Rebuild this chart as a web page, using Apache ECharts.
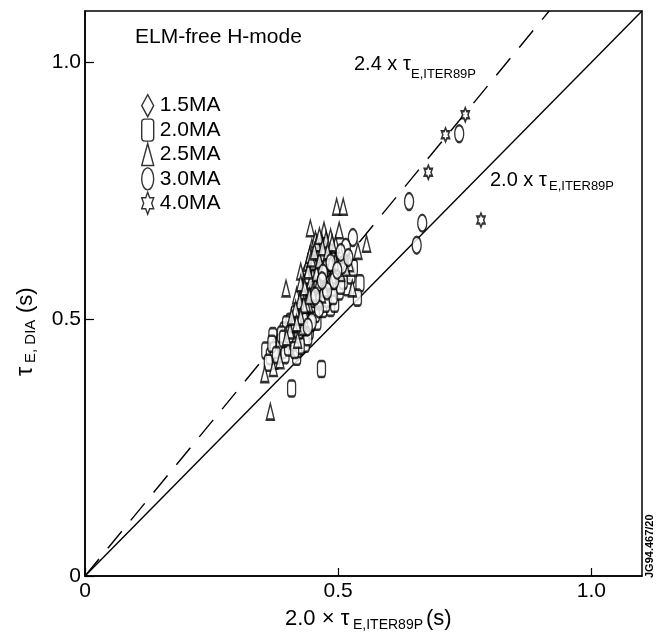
<!DOCTYPE html>
<html>
<head>
<meta charset="utf-8">
<script src="https://cdn.jsdelivr.net/npm/echarts@6/dist/echarts.min.js"></script>
<style>html,body{margin:0;padding:0;background:#fff}#c{width:664px;height:634px}</style>
</head>
<body>
<div id="c"></div>
<script>
// ---- data ----
const seriesNames = ['1.5MA', '2.0MA', '2.5MA', '3.0MA', '4.0MA'];
const ma15 = [[0.435,0.590],[0.448,0.600],[0.460,0.620],[0.466,0.570],[0.476,0.592],[0.482,0.560],[0.495,0.570],[0.458,0.550],[0.444,0.548],[0.472,0.635],[0.452,0.625],[0.438,0.520],
  [0.440,0.575],[0.456,0.580],[0.468,0.605],[0.478,0.620],[0.486,0.595],[0.450,0.560],[0.462,0.555],[0.430,0.540]];
const ma20 = [[0.467,0.403],[0.408,0.365],[0.543,0.570],[0.538,0.542],[0.371,0.467],[0.357,0.439],[0.376,0.419],[0.418,0.427],[0.382,0.432],[0.393,0.478],[0.400,0.458],[0.420,0.442],[0.443,0.477],[0.366,0.428],[0.380,0.448],[0.410,0.470],[0.428,0.470],[0.435,0.452],[0.390,0.440],[0.405,0.495],[0.415,0.510],[0.432,0.500],[0.448,0.505],[0.458,0.495],[0.470,0.520],[0.485,0.522],[0.493,0.530],[0.502,0.554],[0.518,0.562],[0.525,0.585],[0.465,0.548],[0.452,0.520],[0.440,0.465],[0.478,0.540],[0.510,0.575],[0.530,0.600],
  [0.374,0.440],[0.386,0.455],[0.395,0.430],[0.402,0.445],[0.412,0.455],[0.425,0.448],[0.398,0.490],[0.408,0.480],[0.388,0.470],[0.362,0.415],[0.455,0.510],[0.462,0.535],[0.475,0.530],[0.490,0.545],[0.505,0.565],
  [0.369,0.452],[0.378,0.430],[0.392,0.462],[0.403,0.470],[0.414,0.440],[0.422,0.478],[0.436,0.485],[0.446,0.492]];
const ma25 = [[0.366,0.320],[0.355,0.393],[0.397,0.560],[0.445,0.677],[0.472,0.673],[0.502,0.673],[0.497,0.719],[0.510,0.719],[0.556,0.647],[0.539,0.633],[0.528,0.560],[0.505,0.590],[0.522,0.609],[0.426,0.593],[0.418,0.546],[0.432,0.572],[0.440,0.610],[0.448,0.640],[0.455,0.655],[0.462,0.630],[0.468,0.650],[0.478,0.645],[0.485,0.660],[0.490,0.630],[0.495,0.645],[0.458,0.605],[0.450,0.585],[0.442,0.560],[0.436,0.540],[0.428,0.525],[0.420,0.505],[0.412,0.490],[0.405,0.478],[0.398,0.465],[0.470,0.612],[0.480,0.600],[0.465,0.585],[0.455,0.565],[0.447,0.530],[0.460,0.540],[0.475,0.570],[0.488,0.585],[0.500,0.610],[0.512,0.625],[0.515,0.600],[0.440,0.500],[0.430,0.485],[0.372,0.405],[0.385,0.420],[0.420,0.460],
  [0.430,0.555],[0.438,0.585],[0.444,0.625],[0.452,0.612],[0.458,0.648],[0.463,0.662],[0.470,0.628],[0.476,0.655],[0.482,0.620],[0.488,0.648],[0.494,0.612],[0.446,0.575],[0.452,0.540],[0.424,0.535],[0.416,0.520],[0.408,0.505],[0.434,0.510],[0.442,0.528],[0.466,0.600],[0.472,0.560],[0.460,0.595],[0.484,0.575],[0.426,0.570],
  [0.434,0.562],[0.441,0.595],[0.447,0.618],[0.453,0.632],[0.457,0.590],[0.463,0.615],[0.469,0.640],[0.474,0.605],[0.479,0.632],[0.486,0.610],[0.449,0.552],[0.437,0.530],[0.443,0.545],[0.461,0.570],[0.467,0.548],[0.432,0.528],[0.426,0.505],[0.418,0.492]];
const ma30 = [[0.739,0.861],[0.640,0.729],[0.666,0.687],[0.655,0.644],[0.529,0.659],[0.515,0.640],[0.508,0.605],[0.492,0.575],[0.478,0.555],[0.462,0.520],[0.448,0.495],[0.470,0.590],[0.485,0.610],[0.455,0.545],
  [0.498,0.595],[0.505,0.630],[0.468,0.575],[0.440,0.485],[0.520,0.620]];
const ma40 = [[0.751,0.898],[0.712,0.859],[0.678,0.786],[0.782,0.693]];
const line20 = [[0, 0], [1.1, 1.1]];          // 2.0 x tau line (y = x)
const line24 = [[0, 0], [0.9167, 1.1]];       // 2.4 x tau line (y = 1.2 x)
const axisMin = 0, axisMax = 1.1, axisStep = 0.5;

// ---- styles ----
const FONT = '"Liberation Sans", Arial, sans-serif';
const starPath = 'path://M50,0 L64.4,25 L93.3,25 L78.9,50 L93.3,75 L64.4,75 L50,100 L35.6,75 L6.7,75 L21.1,50 L6.7,25 L35.6,25 Z';
const ellipsePath = 'path://M50,0 A50,50 0 1,1 50,100 A50,50 0 1,1 50,0 Z';
const markStyle = { color: '#fff', borderColor: '#000', borderWidth: 1.8 };
function sc(name, data, symbol, size) {
  return { name, type: 'scatter', data, symbol, symbolSize: size, symbolKeepAspect: false,
    itemStyle: markStyle, emphasis: { disabled: true }, z: 3 };
}
const fmt = v => (v === 0 ? '0' : v.toFixed(1));

const chart = echarts.init(document.getElementById('c'), null, { renderer: 'canvas' });
chart.setOption({
  animation: false,
  backgroundColor: '#fff',
  grid: { left: 85, right: 22, top: 11, bottom: 58, show: true, borderColor: '#000', borderWidth: 1.5, backgroundColor: 'transparent' },
  legend: {
    data: seriesNames, orient: 'vertical', left: 136, top: 89,
    itemWidth: 12, itemHeight: 22, itemGap: 1, symbolKeepAspect: false,
    itemStyle: { color: '#fff', borderColor: '#000', borderWidth: 1.4 },
    textStyle: { fontSize: 21, color: '#000', fontFamily: FONT, padding: [0, 0, 0, 1] },
    selectedMode: false
  },
  xAxis: {
    type: 'value', min: axisMin, max: axisMax, interval: axisStep,
    axisLine: { show: true, onZero: false, lineStyle: { color: '#000', width: 1.5 } },
    axisTick: { show: true, inside: true, length: 8, lineStyle: { color: '#000', width: 1.2 } },
    axisLabel: { fontSize: 21, color: '#000', fontFamily: FONT, margin: 5, showMaxLabel: false, formatter: fmt },
    splitLine: { show: false }
  },
  yAxis: {
    type: 'value', min: axisMin, max: axisMax, interval: axisStep,
    axisLine: { show: true, onZero: false, lineStyle: { color: '#000', width: 1.5 } },
    axisTick: { show: true, inside: true, length: 9, lineStyle: { color: '#000', width: 1.2 } },
    axisLabel: { fontSize: 21, color: '#000', fontFamily: FONT, margin: 4, showMaxLabel: false, formatter: fmt },
    splitLine: { show: false }
  },
  series: [
    { name: 'line20', type: 'line', data: line20, showSymbol: false, silent: true, z: 2,
      lineStyle: { color: '#000', width: 1.4 } },
    { name: 'line24', type: 'line', data: line24, showSymbol: false, silent: true, z: 2,
      lineStyle: { color: '#000', width: 1.4, type: [22, 14] } },
    sc('1.5MA', ma15, 'diamond', [8, 16]),
    sc('2.0MA', ma20, 'roundRect', [8, 16]),
    sc('2.5MA', ma25, 'triangle', [8, 16]),
    sc('3.0MA', ma30, ellipsePath, [9, 17]),
    sc('4.0MA', ma40, starPath, [8, 14])
  ],
  graphic: [
    { type: 'text', x: 135, y: 37, style: { text: 'ELM-free H-mode', font: '21px ' + FONT, fill: '#000', verticalAlign: 'middle' } },
    { type: 'text', x: 354, y: 64, style: { text: '2.4 x τ', font: '20px ' + FONT, fill: '#000', verticalAlign: 'middle' } },
    { type: 'text', x: 411, y: 74, style: { text: 'E,ITER89P', font: '13px ' + FONT, fill: '#000', verticalAlign: 'middle' } },
    { type: 'text', x: 490, y: 180, style: { text: '2.0 x τ', font: '20px ' + FONT, fill: '#000', verticalAlign: 'middle' } },
    { type: 'text', x: 549, y: 186, style: { text: 'E,ITER89P', font: '13px ' + FONT, fill: '#000', verticalAlign: 'middle' } },
    { type: 'group', x: 0, y: 0, children: [
      { type: 'text', x: 285, y: 619, style: { text: '2.0 × τ', font: '22px ' + FONT, fill: '#000', verticalAlign: 'middle' } },
      { type: 'text', x: 353, y: 625, style: { text: 'E,ITER89P', font: '14px ' + FONT, fill: '#000', verticalAlign: 'middle' } },
      { type: 'text', x: 426, y: 619, style: { text: '(s)', font: '22px ' + FONT, fill: '#000', verticalAlign: 'middle' } }
    ] },
    { type: 'group', x: 33, y: 376, rotation: Math.PI / 2, children: [
      { type: 'text', x: 0, y: -7, style: { text: 'τ', font: '23px ' + FONT, fill: '#000', verticalAlign: 'middle' } },
      { type: 'text', x: 13, y: -2, style: { text: 'E, DIA', font: '15px ' + FONT, fill: '#000', verticalAlign: 'middle' } },
      { type: 'text', x: 63, y: -7, style: { text: '(s)', font: '22px ' + FONT, fill: '#000', verticalAlign: 'middle' } }
    ] },
    { type: 'group', x: 650, y: 578, rotation: Math.PI / 2, children: [
      { type: 'text', x: 0, y: 0, style: { text: 'JG94.467/20', font: 'bold 11px ' + FONT, fill: '#000', verticalAlign: 'middle' } }
    ] }
  ]
});
</script>
</body>
</html>
